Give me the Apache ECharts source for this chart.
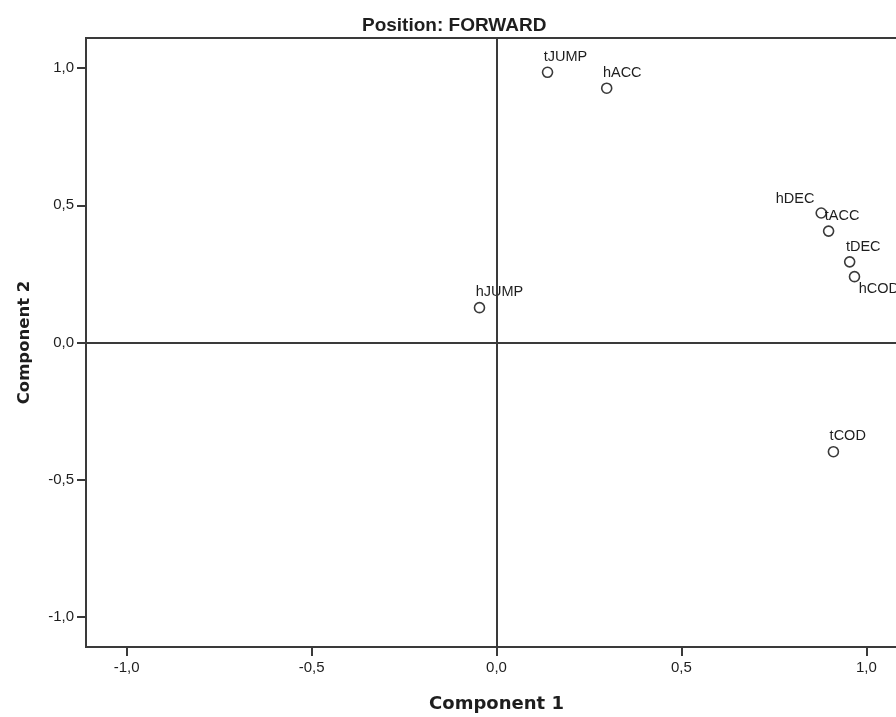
<!DOCTYPE html>
<html>
<head>
<meta charset="utf-8">
<title>Component Plot - Position: FORWARD</title>
<script src="https://cdn.jsdelivr.net/npm/echarts@6/dist/echarts.min.js"></script>
<style>
  html, body { margin: 0; padding: 0; background: #fff; overflow: hidden; }
  #chart { width: 896px; height: 717px; }
</style>
</head>
<body>
<div id="chart"></div>
<script>
// Variable loadings on the two rotated components
const varNames = ['tJUMP', 'hACC', 'hDEC', 'tACC', 'tDEC', 'hCOD', 'hJUMP', 'tCOD'];
const comp1 = [0.138, 0.298, 0.878, 0.898, 0.955, 0.968, -0.046, 0.911];
const comp2 = [0.985, 0.927, 0.472, 0.406, 0.294, 0.240, 0.127, -0.398];

// Tick values shown on both axes
const xTicks = [-1.0, -0.5, 0.0, 0.5, 1.0];
const yTicks = [-1.0, -0.5, 0.0, 0.5, 1.0];

// Label placement for crowded points (default: above, left-aligned)
const labelPlacement = { hDEC: 'upperLeft', hCOD: 'lowerRight' };

const ink = '#3a3a3a';
const textColor = '#1e1e1e';

function labelFor(name) {
  const side = labelPlacement[name] || 'above';
  if (side === 'upperLeft') {
    return { position: [-1, -1], align: 'right', verticalAlign: 'bottom' };
  }
  if (side === 'lowerRight') {
    return { position: [10, 11], align: 'left', verticalAlign: 'top' };
  }
  return { position: [2, -2], align: 'left', verticalAlign: 'bottom' };
}

const points = varNames.map((n, i) => ({
  name: n,
  value: [comp1[i], comp2[i]],
  label: labelFor(n)
}));

const fmt = v => v.toFixed(1).replace('.', ',');

const chart = echarts.init(document.getElementById('chart'), null, { renderer: 'canvas' });
chart.setOption({
  animation: false,
  backgroundColor: '#ffffff',
  title: {
    text: 'Position: FORWARD',
    left: 357,
    top: 11,
    textStyle: {
      fontFamily: 'Liberation Sans, Arial, sans-serif',
      fontWeight: 'bold',
      fontSize: 19,
      color: textColor
    }
  },
  // plot area runs past the right edge of the canvas
  grid: {
    left: 86,
    top: 38,
    width: 821,
    height: 609,
    outerBoundsMode: 'none',
    containLabel: false,
    show: true,
    borderColor: ink,
    borderWidth: 2,
    backgroundColor: '#ffffff'
  },
  xAxis: {
    type: 'value',
    min: -1.11,
    max: 1.11,
    name: 'Component 1',
    nameLocation: 'middle',
    nameGap: 48,
    nameTextStyle: {
      fontFamily: 'DejaVu Sans, sans-serif',
      fontWeight: 'bold',
      fontSize: 18,
      color: textColor
    },
    axisLine: { show: false, onZero: false },
    splitLine: { show: false },
    axisTick: {
      show: true,
      length: 9,
      customValues: xTicks,
      lineStyle: { color: ink, width: 2 }
    },
    axisLabel: {
      customValues: xTicks,
      formatter: fmt,
      margin: 13,
      fontFamily: 'Liberation Sans, Arial, sans-serif',
      fontSize: 15,
      color: textColor
    }
  },
  yAxis: {
    type: 'value',
    min: -1.11,
    max: 1.11,
    name: 'Component 2',
    nameLocation: 'middle',
    nameRotate: 90,
    nameGap: 53,
    nameTextStyle: {
      fontFamily: 'DejaVu Sans, sans-serif',
      fontWeight: 'bold',
      fontSize: 16.5,
      color: textColor
    },
    axisLine: { show: false, onZero: false },
    splitLine: { show: false },
    axisTick: {
      show: true,
      length: 9,
      customValues: yTicks,
      lineStyle: { color: ink, width: 2 }
    },
    axisLabel: {
      customValues: yTicks,
      formatter: fmt,
      margin: 12,
      fontFamily: 'Liberation Sans, Arial, sans-serif',
      fontSize: 15,
      color: textColor
    }
  },
  series: [{
    type: 'scatter',
    data: points,
    symbol: 'circle',
    symbolSize: 10,
    itemStyle: {
      color: 'rgba(255,255,255,0)',
      borderColor: ink,
      borderWidth: 1.6,
      opacity: 1
    },
    label: {
      show: true,
      formatter: p => p.name,
      fontFamily: 'Liberation Sans, Arial, sans-serif',
      fontSize: 14.5,
      color: textColor
    },
    emphasis: { disabled: true },
    markLine: {
      silent: true,
      symbol: ['none', 'none'],
      label: { show: false },
      lineStyle: { type: 'solid', color: ink, width: 2 },
      data: [{ xAxis: 0 }, { yAxis: 0 }]
    }
  }]
});
</script>
</body>
</html>
